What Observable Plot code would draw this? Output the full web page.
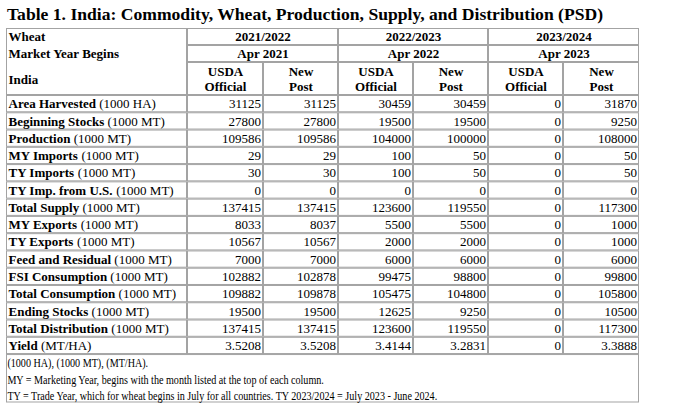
<!DOCTYPE html>
<html>
<head>
<meta charset="utf-8">
<script src="https://cdn.jsdelivr.net/npm/d3@7"></script>
<script src="https://cdn.jsdelivr.net/npm/@observablehq/plot@0.6"></script>
<style>
  html, body { margin: 0; padding: 0; background: white; }
  #wrap { position: relative; width: 691px; height: 414px; overflow: hidden; }
  #title { position: absolute; left: 7px; top: 4px; line-height: 24px; font: bold 17.6px "Liberation Serif", "Times New Roman", serif; color: #000; white-space: nowrap; z-index: 2; }
  #chart { position: absolute; left: 0; top: 24px; }
</style>
</head>
<body>
<div id="wrap">
  <div id="title">Table 1. India: Commodity, Wheat, Production, Supply, and Distribution (PSD)</div>
  <div id="chart"></div>
</div>
<script>
// ---------- data ----------
const headerLabels = ["Wheat", "Market Year Begins", "India"];
const years = ["2021/2022", "2022/2023", "2023/2024"];
const marketBegins = ["Apr 2021", "Apr 2022", "Apr 2023"];
const subHeaders = ["USDA\nOfficial", "New\nPost"];
const attributes = ["Area Harvested", "Beginning Stocks", "Production", "MY Imports", "TY Imports",
  "TY Imp. from U.S.", "Total Supply", "MY Exports", "TY Exports", "Feed and Residual",
  "FSI Consumption", "Total Consumption", "Ending Stocks", "Total Distribution", "Yield"];
const units = ["(1000 HA)", "(1000 MT)", "(1000 MT)", "(1000 MT)", "(1000 MT)",
  "(1000 MT)", "(1000 MT)", "(1000 MT)", "(1000 MT)", "(1000 MT)",
  "(1000 MT)", "(1000 MT)", "(1000 MT)", "(1000 MT)", "(MT/HA)"];
const usda2021 = [31125, 27800, 109586, 29, 30, 0, 137415, 8033, 10567, 7000, 102882, 109882, 19500, 137415, 3.5208];
const post2021 = [31125, 27800, 109586, 29, 30, 0, 137415, 8037, 10567, 7000, 102878, 109878, 19500, 137415, 3.5208];
const usda2022 = [30459, 19500, 104000, 100, 100, 0, 123600, 5500, 2000, 6000, 99475, 105475, 12625, 123600, 3.4144];
const post2022 = [30459, 19500, 100000, 50, 50, 0, 119550, 5500, 2000, 6000, 98800, 104800, 9250, 119550, 3.2831];
const usda2023 = [0, 0, 0, 0, 0, 0, 0, 0, 0, 0, 0, 0, 0, 0, 0];
const post2023 = [31870, 9250, 108000, 50, 50, 0, 117300, 1000, 1000, 6000, 99800, 105800, 10500, 117300, 3.3888];
const footnotes = [
  "(1000 HA), (1000 MT), (MT/HA).",
  "MY = Marketing Year, begins with the month listed at the top of each column.",
  "TY = Trade Year, which for wheat begins in July for all countries. TY 2023/2024 = July 2023 - June 2024."
];

// ---------- layout ----------
const W = 691, TOP = 24, H = 414 - TOP;
const colX = [6, 187, 263, 338, 413, 488, 563, 639];
const yTop = 28, yMY = 45, ySub = 62, yData = 95, rowH = 17.27;
const yFoot = yData + rowH * attributes.length, yBottom = 402.5;
const FONT = '"Liberation Serif", "Times New Roman", serif';
const FS = 13;
const FOOT_SCALE = 0.75, FOOT_X = 7;

const valueCols = [usda2021, post2021, usda2022, post2022, usda2023, post2023];
const fmt = (v, i) => (i === attributes.length - 1 && v !== 0) ? v.toFixed(4) : String(v);

// measure bold label widths
const ctx = document.createElement("canvas").getContext("2d");
ctx.font = `bold ${FS}px "Liberation Serif"`;
const boldW = attributes.map(a => ctx.measureText(a + " ").width);

// cells
const cells = [];
cells.push({x1: colX[0], x2: colX[1], y1: yTop, y2: yData});
years.forEach((y, k) => {
  cells.push({x1: colX[1 + 2 * k], x2: colX[3 + 2 * k], y1: yTop, y2: yMY});
  cells.push({x1: colX[1 + 2 * k], x2: colX[3 + 2 * k], y1: yMY, y2: ySub});
  cells.push({x1: colX[1 + 2 * k], x2: colX[2 + 2 * k], y1: ySub, y2: yData});
  cells.push({x1: colX[2 + 2 * k], x2: colX[3 + 2 * k], y1: ySub, y2: yData});
});
attributes.forEach((a, i) => {
  for (let c = 0; c < 7; c++) cells.push({x1: colX[c], x2: colX[c + 1], y1: yData + i * rowH, y2: yData + (i + 1) * rowH});
});
cells.push({x1: colX[0], x2: colX[7], y1: yFoot, y2: yBottom});

const headLeft = headerLabels.map((t, i) => ({t, x: 8, y: [36.5, 53.5, 79][i]}));
const yearText = years.map((t, k) => ({t, x: (colX[1 + 2 * k] + colX[3 + 2 * k]) / 2, y: 36.5}));
const mbText = marketBegins.map((t, k) => ({t, x: (colX[1 + 2 * k] + colX[3 + 2 * k]) / 2, y: 53.5}));
const subText = [];
years.forEach((_, k) => subHeaders.forEach((t, j) => subText.push({t, x: (colX[1 + 2 * k + j] + colX[2 + 2 * k + j]) / 2, y: 78.5})));
const labelText = attributes.map((t, i) => ({t, x: 8, y: yData + (i + 0.5) * rowH}));
const unitText = units.map((t, i) => ({t, x: 8 + boldW[i], y: yData + (i + 0.5) * rowH}));
const valText = [];
valueCols.forEach((col, c) => col.forEach((v, i) => valText.push({t: fmt(v, i), x: colX[c + 2] - 2.5, y: yData + (i + 0.5) * rowH})));
const footText = footnotes.map((t, i) => ({t, x: FOOT_X, y: yFoot + 8.5 + i * 16.5}));

const tx = {x: "x", y: "y", text: "t", fill: "#000", fontSize: FS, fontFamily: FONT};

const chart = Plot.plot({
  width: W, height: H, margin: 0,
  x: {type: "linear", domain: [0, W], range: [0, W], axis: null},
  y: {type: "linear", domain: [TOP, TOP + H], range: [0, H], axis: null},
  style: {fontFamily: FONT, fontSize: FS + "px", background: "white", overflow: "visible"},
  marks: [
    Plot.rect(cells, {x1: "x1", x2: "x2", y1: "y1", y2: "y2", fill: "none", stroke: "#a3a3a3", strokeWidth: 1, inset: 0.5}),
    Plot.text(headLeft, {...tx, textAnchor: "start", fontWeight: "bold"}),
    Plot.text(yearText, {...tx, textAnchor: "middle", fontWeight: "bold"}),
    Plot.text(mbText, {...tx, textAnchor: "middle", fontWeight: "bold"}),
    Plot.text(subText, {...tx, textAnchor: "middle", fontWeight: "bold", lineHeight: 1.15}),
    Plot.text(labelText, {...tx, textAnchor: "start", fontWeight: "bold"}),
    Plot.text(unitText, {...tx, textAnchor: "start"}),
    Plot.text(valText, {...tx, textAnchor: "end"}),
    Plot.text(footText, {...tx, textAnchor: "start", fontSize: 13.5})
  ]
});
// the footnote lines are set in a horizontally condensed face in the reference
const groups = chart.querySelectorAll(":scope > g");
const footG = groups[groups.length - 1];
const wrapG = document.createElementNS("http://www.w3.org/2000/svg", "g");
wrapG.setAttribute("transform", `translate(${FOOT_X},0) scale(${FOOT_SCALE},1) translate(${-FOOT_X},0)`);
footG.parentNode.insertBefore(wrapG, footG);
wrapG.appendChild(footG);
document.getElementById("chart").appendChild(chart);
</script>
</body>
</html>
